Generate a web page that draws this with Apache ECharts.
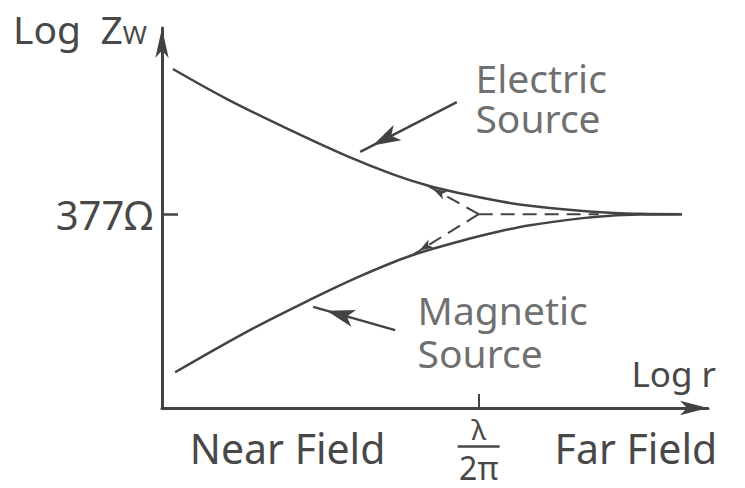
<!DOCTYPE html>
<html><head><meta charset="utf-8">
<script src="https://cdn.jsdelivr.net/npm/echarts@6/dist/echarts.min.js"></script>
<style>html,body{margin:0;padding:0;background:#fff}#c{width:745px;height:488px}</style>
</head><body><div id="c"></div>
<script>
// Log r (x) and Log Zw (y) in relative units
const electricX = [2.0, 11.9, 24.0, 33.9, 42.3, 48.5, 54.6, 61.9, 67.4, 76.6, 82.1, 87.5, 95.2];
const electricY = [89.2, 81.3, 72.8, 66.3, 61.5, 58.6, 56.5, 54.4, 53.2, 51.9, 51.4, 51.1, 51.0];
const magneticX = [2.4, 16.1, 27.7, 36.3, 45.4, 54.6, 61.9, 67.4, 76.6, 82.1, 87.5, 95.2];
const magneticY = [9.4, 20.5, 28.9, 34.7, 40.0, 43.9, 46.5, 48.1, 49.9, 50.6, 50.9, 51.0];
const freeSpaceLevel = 51;          // 377 Ω
const transitionR = 58;             // λ/2π
const dashedEndR = 80;
const dashedUpperEnd = [48.5, 58.6];
const dashedLowerEnd = [46.0, 40.4];
const yTickLabel = '377Ω';
const regionLabels = ['Near Field', 'Far Field'];
const regionX = [23.0, 86.8];
const electricArrow = [[54.0, 80.5], [36.3, 67.4]];
const magneticArrow = [[42.7, 20.5], [27.7, 26.6]];
const annotationPos = [[56.4, 81.6], [45.8, 20.2]];
const annotationText = ['Electric\nSource', 'Magnetic\nSource'];
const annotationLineHeight = [40, 43];

const INK = '#434343';
const TXT = '#484848';
const FONT = 'Noto Sans';
const pair = (xs, ys) => xs.map((x, i) => [x, ys[i]]);

const chart = echarts.init(document.getElementById('c'), null, {renderer: 'svg'});
const arrowEnd = (coord, w, h) => ({coord, symbol: 'arrow', symbolSize: [w, h], symbolOffset: [0, h / 2]});
chart.setOption({
  animation: false,
  backgroundColor: '#fff',
  grid: {left: 162, right: 37, top: 28, bottom: 80, containLabel: false, outerBoundsMode: 'none'},
  xAxis: {
    type: 'value', min: 0, max: 100,
    splitLine: {show: false},
    axisLine: {show: true, onZero: false, symbol: ['none', 'arrow'], symbolSize: [11, 28], lineStyle: {color: INK, width: 3}},
    axisTick: {show: true, customValues: [transitionR], inside: true, length: 14, lineStyle: {color: INK, width: 2}},
    axisLabel: {
      show: true, customValues: [regionX[0], transitionR, regionX[1]], margin: 6,
      verticalAlign: 'top', color: TXT, fontFamily: FONT,
      formatter: v => Math.abs(v - transitionR) < 0.01 ? '{n|λ}\n{bar| }\n{d|2π}'
        : '{f|' + (v < transitionR ? regionLabels[0] : regionLabels[1]) + '}',
      rich: {
        n: {fontSize: 28, lineHeight: 30, color: TXT, fontFamily: FONT},
        bar: {fontSize: 1, width: 42, height: 2.5, lineHeight: 5, backgroundColor: TXT},
        d: {fontSize: 32, lineHeight: 36, color: TXT, fontFamily: FONT},
        f: {fontSize: 41, lineHeight: 40, padding: [28, 0, 0, 0], color: TXT, fontFamily: FONT}
      }
    },
    name: 'Log r', nameLocation: 'end', nameGap: 8, nameMoveOverlap: false,
    nameTextStyle: {align: 'right', verticalAlign: 'bottom', padding: [0, 0, 17, 0], fontSize: 35, color: TXT, fontFamily: FONT}
  },
  yAxis: {
    type: 'value', min: 0, max: 100,
    splitLine: {show: false},
    axisLine: {show: true, onZero: false, symbol: ['none', 'arrow'], symbolSize: [10, 30], lineStyle: {color: INK, width: 3}},
    axisTick: {show: true, customValues: [freeSpaceLevel], inside: true, length: 16, lineStyle: {color: INK, width: 2.5}},
    axisLabel: {show: true, customValues: [freeSpaceLevel], formatter: () => yTickLabel, margin: 9, fontSize: 40, color: TXT, fontFamily: FONT},
    name: '{a|Log\u2002Z}{b|W}', nameLocation: 'end', nameGap: 0, nameMoveOverlap: false,
    nameTextStyle: {
      align: 'right', verticalAlign: 'middle', padding: [0, 15, 0, 0],
      rich: {
        a: {fontSize: 39, lineHeight: 38, padding: [0, 0, 6, 0], verticalAlign: 'top', color: TXT, fontFamily: FONT},
        b: {fontSize: 26, lineHeight: 26, verticalAlign: 'bottom', color: TXT, fontFamily: FONT}
      }
    }
  },
  series: [
    {
      name: 'Guides', type: 'line', silent: true, symbol: 'none',
      data: [[transitionR, freeSpaceLevel], [dashedEndR, freeSpaceLevel]],
      lineStyle: {color: INK, width: 2, type: [14, 8]},
      markLine: {
        silent: true, animation: false, label: {show: false}, emphasis: {disabled: true},
        data: [
          [{coord: [transitionR, freeSpaceLevel], symbol: 'none'}, arrowEnd(dashedUpperEnd, 7, 14)],
          [{coord: [transitionR, freeSpaceLevel], symbol: 'none'}, arrowEnd(dashedLowerEnd, 7, 14)]
        ],
        lineStyle: {color: INK, width: 2, type: [14, 8], opacity: 1}
      }
    },
    {
      name: 'Electric Source', type: 'line', silent: true, symbol: 'none', smooth: 0.35,
      data: pair(electricX, electricY), lineStyle: {color: INK, width: 2.5}
    },
    {
      name: 'Magnetic Source', type: 'line', silent: true, symbol: 'none', smooth: 0.35,
      data: pair(magneticX, magneticY), lineStyle: {color: INK, width: 2.5},
      markLine: {
        silent: true, animation: false, label: {show: false}, emphasis: {disabled: true},
        data: [
          [{coord: electricArrow[0], symbol: 'none'}, arrowEnd(electricArrow[1], 13, 28)],
          [{coord: magneticArrow[0], symbol: 'none'}, arrowEnd(magneticArrow[1], 13, 28)]
        ],
        lineStyle: {color: INK, width: 2.5, type: 'solid', opacity: 1}
      }
    },
    {
      name: 'Annotations', type: 'scatter', silent: true, symbolSize: 1,
      itemStyle: {color: 'rgba(0,0,0,0)'},
      data: annotationPos.map((p, i) => ({
        value: p, name: annotationText[i],
        label: {lineHeight: annotationLineHeight[i]}
      })),
      label: {show: true, position: 'right', distance: 5, formatter: p => p.name, align: 'left',
        fontSize: 39, lineHeight: 40, color: TXT, fontFamily: FONT}
    }
  ]
});
</script></body></html>
